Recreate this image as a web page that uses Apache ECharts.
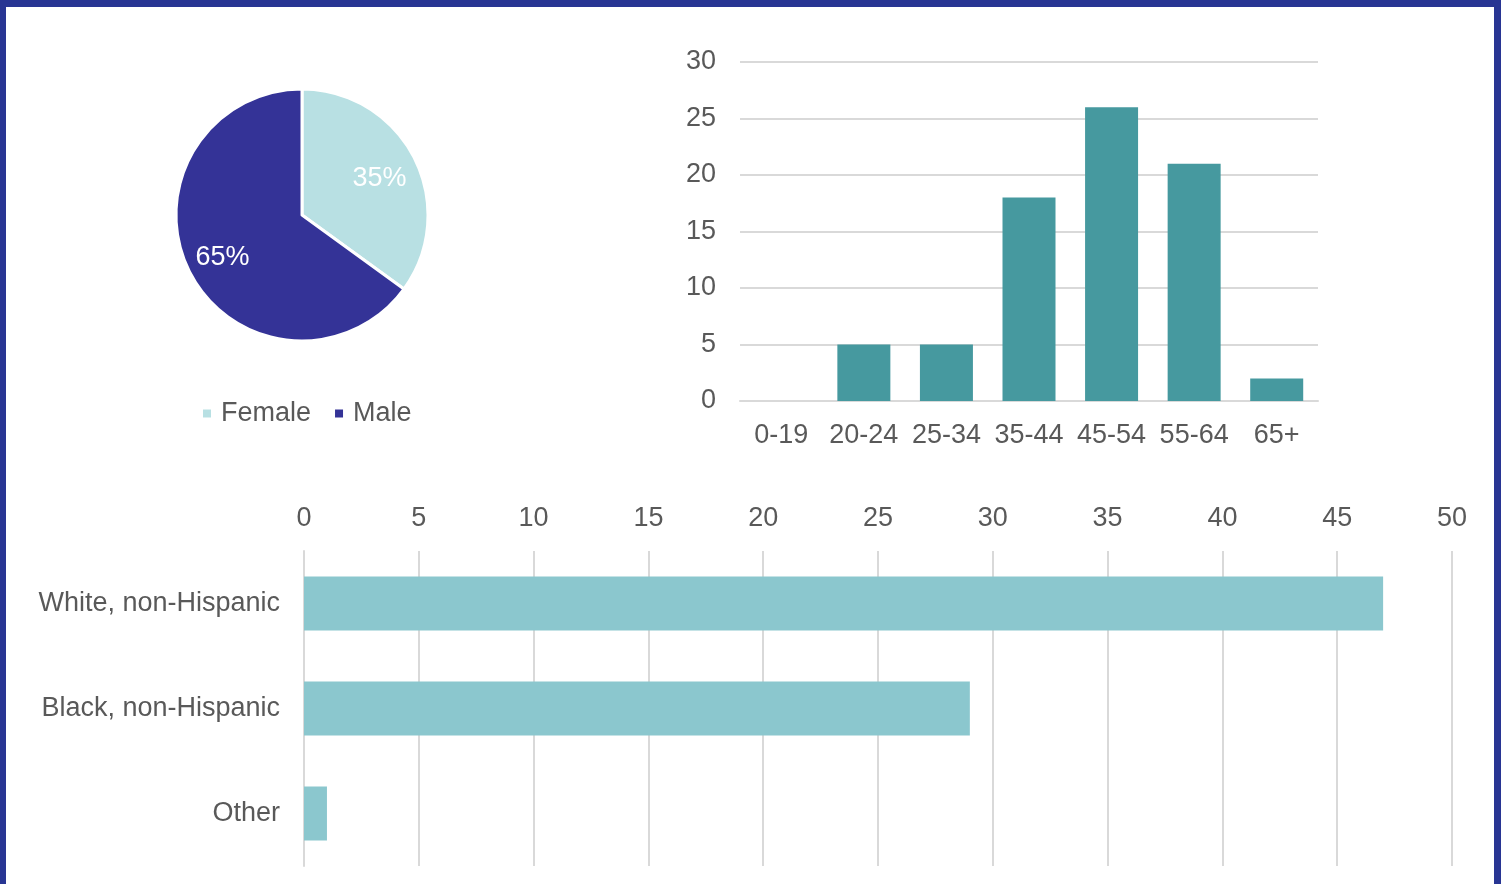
<!DOCTYPE html>
<html>
<head>
<meta charset="utf-8">
<script src="https://cdn.jsdelivr.net/npm/echarts@6/dist/echarts.min.js"></script>
<style>
html,body{margin:0;padding:0;background:#fff;}
#wrap{position:relative;width:1501px;height:884px;overflow:hidden;}
#chart{position:absolute;left:0;top:0;width:1501px;height:884px;}
.b{position:absolute;background:#283593;pointer-events:none;}
</style>
</head>
<body>
<div id="wrap">
<div id="chart"></div>
<div class="b" style="left:0;top:0;width:1501px;height:7px;"></div>
<div class="b" style="left:0;top:0;width:6px;height:884px;"></div>
<div class="b" style="left:1494px;top:0;width:7px;height:884px;"></div>
</div>
<script>
// Gender
const genderLabels = ['Female', 'Male'];
const genderValues = [35, 65];
// Age groups
const ageCategories = ['0-19', '20-24', '25-34', '35-44', '45-54', '55-64', '65+'];
const ageValues = [0, 5, 5, 18, 26, 21, 2];
// Race / ethnicity
const raceCategories = ['White, non-Hispanic', 'Black, non-Hispanic', 'Other'];
const raceValues = [47, 29, 1];

const FONT = '"Liberation Sans", Arial, sans-serif';
const FS = 27;
const TXT = '#595959';
const GRID = '#d9d9d9';

const chart = echarts.init(document.getElementById('chart'), null, {renderer: 'canvas'});
const pieData = genderLabels.map((n, i) => ({name: n, value: genderValues[i]}));

chart.setOption({
  animation: false,
  textStyle: {fontFamily: FONT},
  color: ['#b8e0e3', '#343397'],
  legend: {
    data: genderLabels,
    left: 196, top: 395,
    itemWidth: 10, itemHeight: 10, itemGap: 22,
    icon: 'rect',
    textStyle: {fontSize: FS, color: TXT, fontFamily: FONT, padding: [0, 0, 0, 4]}
  },
  grid: [
    {left: 740, right: 183, top: 62, bottom: 483, containLabel: false},
    {left: 304, right: 49, top: 551, bottom: 18, containLabel: false}
  ],
  xAxis: [
    {
      gridIndex: 0, type: 'category', data: ageCategories,
      axisLine: {lineStyle: {color: GRID, width: 2}},
      axisTick: {show: false},
      axisLabel: {fontSize: FS, color: TXT, fontFamily: FONT, margin: 21, interval: 0}
    },
    {
      gridIndex: 1, type: 'value', position: 'top', min: 0, max: 50, interval: 5,
      axisLine: {show: false}, axisTick: {show: false},
      axisLabel: {fontSize: FS, color: TXT, fontFamily: FONT, margin: 19},
      splitLine: {lineStyle: {color: GRID, width: 2}}
    }
  ],
  yAxis: [
    {
      gridIndex: 0, type: 'value', min: 0, max: 30, interval: 5,
      axisLine: {show: false}, axisTick: {show: false},
      axisLabel: {fontSize: FS, color: TXT, fontFamily: FONT, margin: 24, padding: [4, 0, 0, 0]},
      splitLine: {lineStyle: {color: GRID, width: 2}}
    },
    {
      gridIndex: 1, type: 'category', data: raceCategories, inverse: true,
      axisLine: {show: true, lineStyle: {color: GRID, width: 2}},
      axisTick: {show: false},
      axisLabel: {fontSize: FS, color: TXT, fontFamily: FONT, margin: 24, padding: [4, 0, 0, 0]}
    }
  ],
  series: [
    {
      type: 'pie', name: 'gender', center: [302, 215], radius: [0, 126],
      startAngle: 90, clockwise: true,
      data: pieData,
      itemStyle: {borderColor: '#fff', borderWidth: 3},
      label: {show: false}, labelLine: {show: false},
      emphasis: {disabled: true}
    },
    {
      type: 'pie', name: 'genderLabels', center: [301, 218], radius: [44, 126],
      startAngle: 90, clockwise: true, silent: true,
      legendHoverLink: false,
      data: pieData.map(d => ({name: d.name, value: d.value, itemStyle: {color: 'rgba(0,0,0,0)', borderWidth: 0}})),
      label: {show: true, position: 'inner', formatter: '{d}%', color: '#fff', fontSize: FS, fontFamily: FONT},
      labelLine: {show: false},
      emphasis: {disabled: true}
    },
    {
      type: 'bar', xAxisIndex: 0, yAxisIndex: 0, data: ageValues,
      barWidth: 53, itemStyle: {color: '#46999f'}
    },
    {
      type: 'bar', xAxisIndex: 1, yAxisIndex: 1, data: raceValues,
      barWidth: 54, itemStyle: {color: '#8bc7ce'}
    }
  ]
});
</script>
</body>
</html>
